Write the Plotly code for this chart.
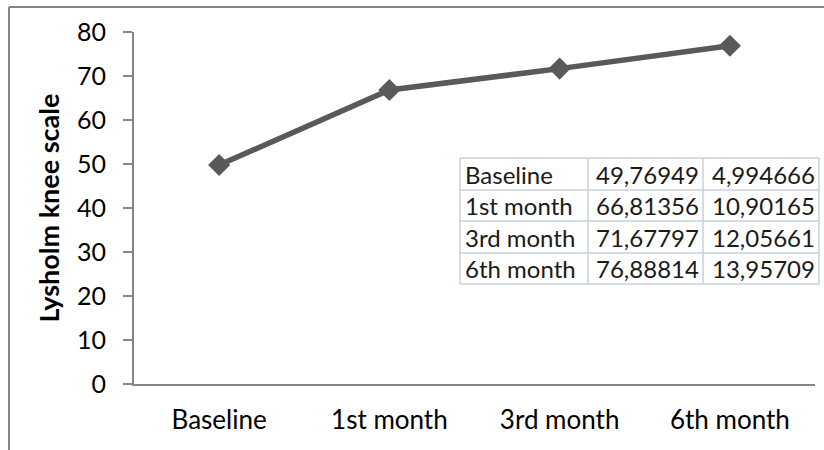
import plotly.graph_objects as go

# Lysholm knee score over follow-up
categories = ["Baseline", "1st month", "3rd month", "6th month"]
mean_scores = [49.76949, 66.81356, 71.67797, 76.88814]
sd_scores = [4.994666, 10.90165, 12.05661, 13.95709]
mean_labels = ["49,76949", "66,81356", "71,67797", "76,88814"]
sd_labels = ["4,994666", "10,90165", "12,05661", "13,95709"]
y_ticks = [0, 10, 20, 30, 40, 50, 60, 70, 80]

W, H = 824, 450
L, R, T, B = 134, 9, 32, 66
PW, PH = W - L - R, H - T - B

FONT = "Lato"
GRAY = "#595959"
AXIS = "#868686"


def px_x(p):
    return (p - L) / PW


def px_y(p):
    return (H - B - p) / PH


fig = go.Figure()
fig.add_trace(go.Scatter(
    x=categories, y=mean_scores, mode="lines+markers",
    line=dict(color=GRAY, width=5.5),
    marker=dict(symbol="diamond", size=17, color=GRAY),
    showlegend=False, hoverinfo="x+y",
))

shapes = []
annotations = []

# outer chart border (top and left edges)
shapes.append(dict(type="line", xref="paper", yref="paper",
                   x0=px_x(9), x1=px_x(W + 5), y0=px_y(7), y1=px_y(7),
                   line=dict(color=AXIS, width=2)))
shapes.append(dict(type="line", xref="paper", yref="paper",
                   x0=px_x(9), x1=px_x(9), y0=px_y(7), y1=px_y(H + 5),
                   line=dict(color=AXIS, width=2)))

# data table inset
col_edges = [460, 588, 703, 819]
row_edges = [158, 190, 221, 253, 284]
grid = "#c9d1de"
for cx in col_edges:
    shapes.append(dict(type="line", xref="paper", yref="paper",
                       x0=px_x(cx), x1=px_x(cx), y0=px_y(row_edges[0]), y1=px_y(row_edges[-1]),
                       line=dict(color=grid, width=1.5)))
for ry in row_edges:
    shapes.append(dict(type="line", xref="paper", yref="paper",
                       x0=px_x(col_edges[0]), x1=px_x(col_edges[-1]), y0=px_y(ry), y1=px_y(ry),
                       line=dict(color=grid, width=1.5)))

tfont = dict(family=FONT, size=24, color="#1a1a1a")
for i, cat in enumerate(categories):
    yc = px_y((row_edges[i] + row_edges[i + 1]) / 2)
    annotations.append(dict(xref="paper", yref="paper", x=px_x(col_edges[0] + 3), y=yc,
                            text=cat, showarrow=False, xanchor="left", yanchor="middle", font=tfont))
    annotations.append(dict(xref="paper", yref="paper", x=px_x(col_edges[2] - 2), y=yc,
                            text=mean_labels[i], showarrow=False, xanchor="right", yanchor="middle", font=tfont))
    annotations.append(dict(xref="paper", yref="paper", x=px_x(col_edges[3] - 2), y=yc,
                            text=sd_labels[i], showarrow=False, xanchor="right", yanchor="middle", font=tfont))

fig.update_layout(
    width=W, height=H,
    margin=dict(l=L, r=R, t=T, b=B, pad=0),
    paper_bgcolor="white", plot_bgcolor="white",
    shapes=shapes, annotations=annotations,
    xaxis=dict(
        type="category", range=[-0.5, 3.5],
        showline=True, linecolor=AXIS, linewidth=2,
        showgrid=False, ticks="", zeroline=False,
        tickfont=dict(family=FONT, size=26, color="black"),
        ticklabelstandoff=12,
    ),
    yaxis=dict(
        range=[0, 80], tickvals=y_ticks,
        showline=True, linecolor=AXIS, linewidth=2,
        showgrid=False, zeroline=False,
        ticks="outside", ticklen=9, tickcolor=AXIS, tickwidth=2,
        tickfont=dict(family=FONT, size=25, color="black"),
        ticklabelstandoff=12,
        title=dict(text="<b>Lysholm knee scale</b>", standoff=10,
                   font=dict(family=FONT, size=27, color="black")),
    ),
)

fig.write_html("out.html")
